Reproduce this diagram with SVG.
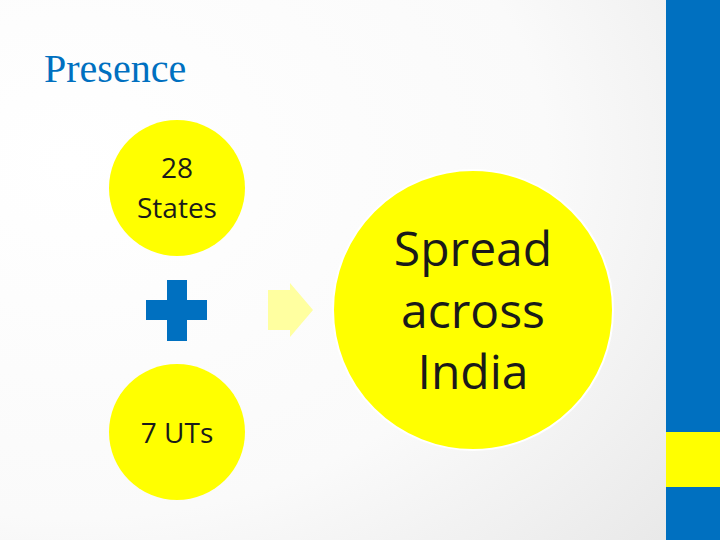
<svg xmlns="http://www.w3.org/2000/svg" width="720" height="540" viewBox="0 0 720 540">
<defs>
<radialGradient id="bg" cx="0.1" cy="0.3" r="1.1">
<stop offset="0" stop-color="#ffffff"/><stop offset="0.6" stop-color="#fafafa"/><stop offset="1" stop-color="#e8e8e8"/>
</radialGradient>
<style>
.c{fill:#ffff00}
.t{font-family:"Open Sans","DejaVu Sans",sans-serif;fill:#1a1a1a;text-anchor:middle}
</style>
</defs>
<rect width="720" height="540" fill="url(#bg)"/>
<rect x="666" y="0" width="54" height="540" fill="#0070c0"/>
<rect x="666" y="432" width="54" height="55" fill="#ffff00"/>
<text x="44" y="82" font-family="Liberation Serif, serif" font-size="40" fill="#0070c0">Presence</text>
<g id="states"><circle class="c" cx="177" cy="188" r="68"/>
<text class="t" font-size="28" x="177" y="178">28</text><text class="t" font-size="28" x="177" y="218">States</text></g>
<g id="plus"><rect x="146" y="300" width="61" height="20" fill="#0070c0"/><rect x="167" y="280" width="20" height="61" fill="#0070c0"/></g>
<g id="uts"><circle class="c" cx="177" cy="432" r="68"/>
<text class="t" font-size="28" x="177" y="443">7 UTs</text></g>
<g id="connectors"><polygon points="268,290 290,290 290,283 313,310 290,337 290,330 268,330" fill="#ffffa0"/></g>
<g id="india"><circle class="c" cx="473" cy="310" r="140" stroke="#ffffff" stroke-width="2"/>
<text class="t" font-size="48" x="473" y="266">Spread</text><text class="t" font-size="48" x="473" y="328">across</text><text class="t" font-size="48" x="473" y="389">India</text></g>
</svg>
